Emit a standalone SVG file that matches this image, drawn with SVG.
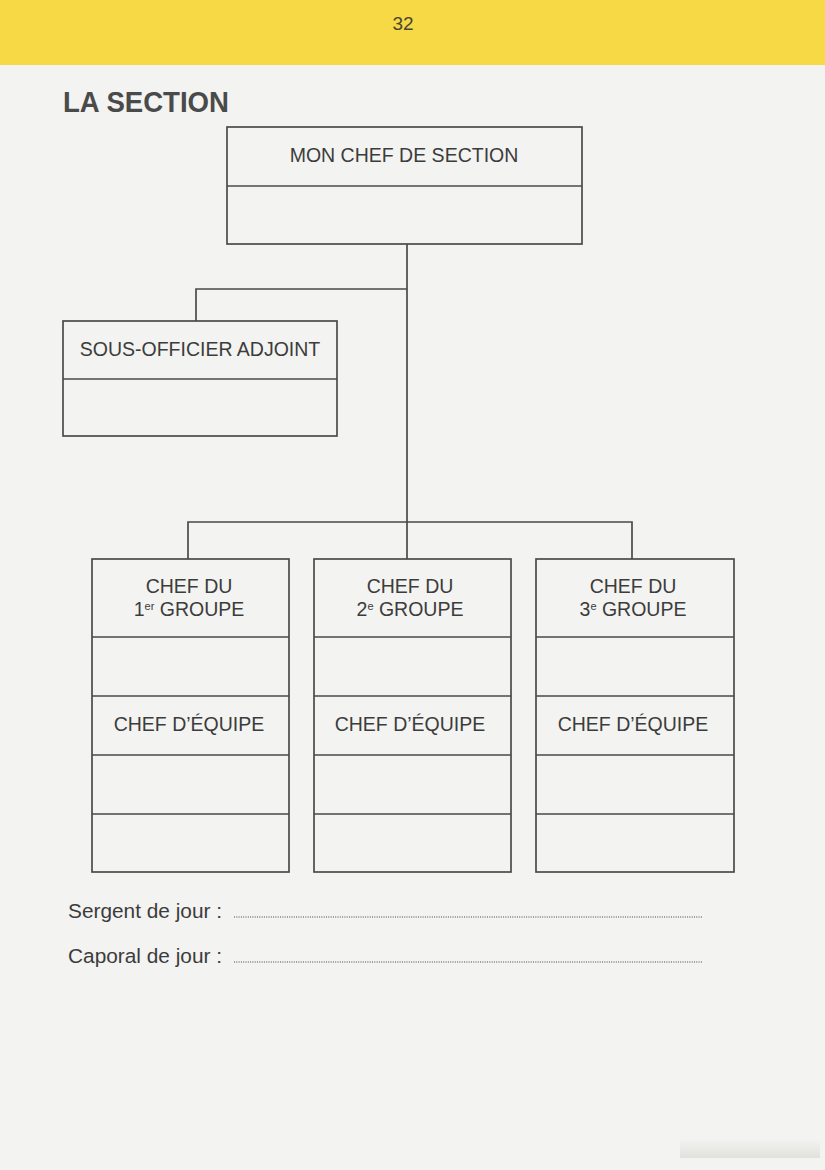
<svg xmlns="http://www.w3.org/2000/svg" width="825" height="1170" viewBox="0 0 825 1170">
<style>
.box{fill:none;stroke:#4a4a4a;stroke-width:1.7}
.ln{fill:none;stroke:#4a4a4a;stroke-width:1.7}
.t{font-family:"Liberation Sans",Arial,sans-serif;font-size:19.5px;fill:#3c3c3c;text-anchor:middle}
.lbl{font-family:"Liberation Sans",Arial,sans-serif;font-size:20.5px;fill:#3c3c3c}
.dot{fill:none;stroke:#444;stroke-width:1.2;stroke-dasharray:1 1.3}
.sup{font-size:11px}
</style>
<defs>
<linearGradient id="bot" x1="0" y1="0" x2="0" y2="1">
<stop offset="0" stop-color="#f4f4f2"/>
<stop offset="1" stop-color="#dcdcd8"/>
</linearGradient>
</defs>
<rect x="0" y="0" width="825" height="1170" fill="#f3f3f1"/>
<rect x="0" y="0" width="825" height="65" fill="#f6d944"/>
<rect x="680" y="1138" width="140" height="20" fill="url(#bot)" opacity="0.8"/>
<text x="403" y="30" font-family="'Liberation Sans',Arial,sans-serif" font-size="19" fill="#4a4632" text-anchor="middle">32</text>
<text x="63" y="112" font-family="'Liberation Sans Narrow','Liberation Sans',Arial,sans-serif" font-weight="bold" font-size="29" fill="#4a4a4a" textLength="166" lengthAdjust="spacingAndGlyphs">LA SECTION</text>

<g id="connectors">
<path class="ln" d="M407 244 V522"/>
<path class="ln" d="M407 289 H196 V321"/>
<path class="ln" d="M188 559 V522 H632 V559"/>
<path class="ln" d="M407 522 V559"/>
</g>

<g id="chef-section">
<rect class="box" x="227" y="127" width="355" height="117"/>
<line class="ln" x1="227" y1="186" x2="582" y2="186"/>
<text class="t" x="404" y="162">MON CHEF DE SECTION</text>
</g>

<g id="sous-officier">
<rect class="box" x="63" y="321" width="274" height="115"/>
<line class="ln" x1="63" y1="379" x2="337" y2="379"/>
<text class="t" x="200" y="356">SOUS-OFFICIER ADJOINT</text>
</g>

<g id="groupe1">
<rect class="box" x="92" y="559" width="197" height="313"/>
<path class="ln" d="M92 637 H289 M92 696 H289 M92 755 H289 M92 814 H289"/>
<text class="t" x="189" y="593">CHEF DU</text>
<text class="t" x="189" y="616">1<tspan class="sup" dy="-6">er</tspan><tspan dy="6"> GROUPE</tspan></text>
<text class="t" x="189" y="731">CHEF D’ÉQUIPE</text>
</g>

<g id="groupe2">
<rect class="box" x="314" y="559" width="197" height="313"/>
<path class="ln" d="M314 637 H511 M314 696 H511 M314 755 H511 M314 814 H511"/>
<text class="t" x="410" y="593">CHEF DU</text>
<text class="t" x="410" y="616">2<tspan class="sup" dy="-6">e</tspan><tspan dy="6"> GROUPE</tspan></text>
<text class="t" x="410" y="731">CHEF D’ÉQUIPE</text>
</g>

<g id="groupe3">
<rect class="box" x="536" y="559" width="198" height="313"/>
<path class="ln" d="M536 637 H734 M536 696 H734 M536 755 H734 M536 814 H734"/>
<text class="t" x="633" y="593">CHEF DU</text>
<text class="t" x="633" y="616">3<tspan class="sup" dy="-6">e</tspan><tspan dy="6"> GROUPE</tspan></text>
<text class="t" x="633" y="731">CHEF D’ÉQUIPE</text>
</g>

<g id="sergent">
<text class="lbl" x="68" y="918" textLength="154" lengthAdjust="spacingAndGlyphs">Sergent de jour :</text>
<line class="dot" x1="234" y1="917" x2="702" y2="917"/>
</g>
<g id="caporal">
<text class="lbl" x="68" y="963" textLength="154" lengthAdjust="spacingAndGlyphs">Caporal de jour :</text>
<line class="dot" x1="234" y1="962" x2="702" y2="962"/>
</g>
</svg>
